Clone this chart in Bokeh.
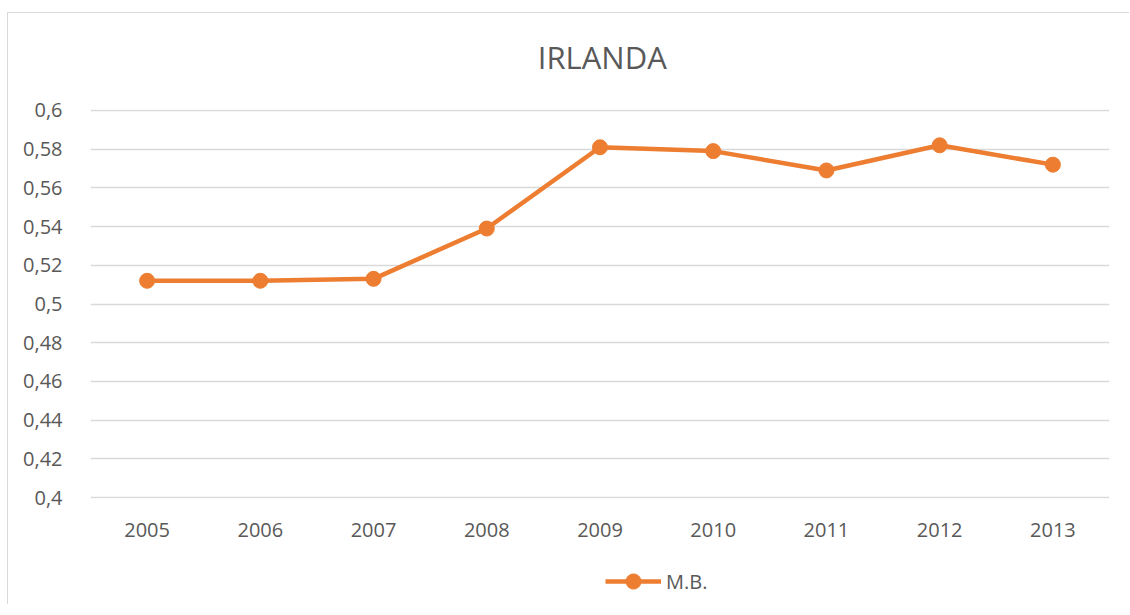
from bokeh.plotting import figure
from bokeh.layouts import column
from bokeh.models import Range1d, FixedTicker, CustomJSTickFormatter, Legend, LegendItem, Label
from bokeh.embed import file_html
from bokeh.resources import INLINE

years = ["2005", "2006", "2007", "2008", "2009", "2010", "2011", "2012", "2013"]
mb_values = [0.512, 0.512, 0.513, 0.539, 0.581, 0.579, 0.569, 0.582, 0.572]
y_ticks = [0.4, 0.42, 0.44, 0.46, 0.48, 0.5, 0.52, 0.54, 0.56, 0.58, 0.6]
series_name = "M.B."
title_text = "IRLANDA"

ORANGE = "#ED7D31"
TEXT = "#595959"
GRID = "#d9d9d9"
FONT = "Open Sans"
BORDER = "1.5px solid #d9d9d9"


def strip(height):
    s = figure(width=1122, height=height, x_range=Range1d(0, 1), y_range=Range1d(0, 1),
               output_backend="svg", toolbar_location=None, x_axis_type=None, y_axis_type=None,
               min_border_left=0, min_border_right=0, min_border_top=0, min_border_bottom=0)
    s.outline_line_color = None
    s.xgrid.visible = False
    s.ygrid.visible = False
    return s


# title strip
tt = strip(70)
tt.margin = (12, 0, 0, 7)
tt.styles = {"border-left": BORDER, "border-top": BORDER}
tt.add_layout(Label(x=0.5027, y=0.38, text=title_text, text_align="center", text_baseline="middle",
                    text_font=FONT, text_font_size="31px", text_color=TEXT))

# main plot
p = figure(frame_width=1018, frame_height=389, x_range=years, y_range=Range1d(0.3995, 0.6005),
           output_backend="svg", toolbar_location=None,
           min_border_left=82, min_border_right=22, min_border_top=27, min_border_bottom=60)
p.margin = (0, 0, 0, 7)
p.styles = {"border-left": BORDER}
p.outline_line_color = None
p.background_fill_color = "white"
p.border_fill_color = "white"

p.yaxis.ticker = FixedTicker(ticks=y_ticks)
p.yaxis.formatter = CustomJSTickFormatter(code="""
let s = tick.toFixed(2);
if (s.endsWith('0')) s = s.slice(0, -1);
return s.replace('.', ',');
""")
for ax in (p.xaxis, p.yaxis):
    ax.axis_line_color = None
    ax.major_tick_line_color = None
    ax.minor_tick_line_color = None
    ax.major_label_text_font = FONT
    ax.major_label_text_font_size = "20px"
    ax.major_label_text_color = TEXT
p.yaxis.major_label_standoff = 22
p.xaxis.major_label_standoff = 18

p.xgrid.grid_line_color = None
p.ygrid.grid_line_color = GRID
p.ygrid.grid_line_width = 1.5

ln = p.line(years, mb_values, line_color=ORANGE, line_width=4.5)
sc = p.scatter(years, mb_values, size=15, fill_color=ORANGE, line_color=ORANGE)

# legend strip below the plot (renderers hold only a NaN anchor so that the legend glyph is drawn)
nan_anchor = [float("nan")]
lg = strip(46)
lg.margin = (0, 0, 0, 7)
lg.styles = {"border-left": BORDER}
lg_ln = lg.line(nan_anchor, nan_anchor, line_color=ORANGE, line_width=4.5)
lg_sc = lg.scatter(nan_anchor, nan_anchor, size=15, fill_color=ORANGE, line_color=ORANGE)
legend = Legend(items=[LegendItem(label=series_name, renderers=[lg_ln, lg_sc])],
                orientation="horizontal", location=(515, 4),
                label_text_font=FONT, label_text_font_size="20px", label_text_color=TEXT,
                glyph_width=56, glyph_height=38, label_standoff=5, border_line_color=None,
                background_fill_alpha=0, margin=0, padding=0)
lg.add_layout(legend, "center")

layout = column(tt, p, lg, spacing=0)
open("out.html", "w").write(file_html(layout, INLINE))
